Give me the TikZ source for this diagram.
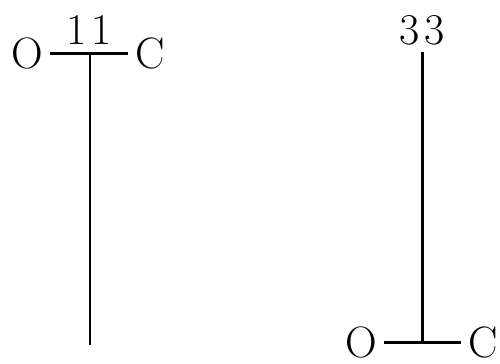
\documentclass[tikz,border=0pt]{standalone}
\usepackage{tikz}
\usetikzlibrary{positioning}

\begin{document}
\begin{tikzpicture}[x=0.02cm,y=-0.02cm,
  atom/.style={font=\fontsize{25}{30}\selectfont,inner xsep=4pt,inner ysep=1pt,text depth=0pt},
  num/.style={font=\fontsize{25}{30}\selectfont,inner sep=0pt,text depth=0pt},
  bond/.style={line width=1.7pt}]
  \useasboundingbox (0,0) rectangle (500,363);
  % left: bar on top
  \node[atom] (oa) at (27,53) {O};
  \node[atom] (ca) at (150,53) {C};
  \node[num] (na) at (89,30) {1\kern3pt1};
  \coordinate (ta) at (90,52);
  \coordinate (ba) at (90,345);
  \draw[bond] (oa) -- (ca);
  \draw[bond] (ta) -- (ba);
  % right: bar at the bottom
  \node[atom] (ob) at (361,342) {O};
  \node[atom] (cb) at (483,342) {C};
  \node[num] (nb) at (422,30) {3\kern3pt3};
  \coordinate (tb) at (422,52);
  \coordinate (bb) at (422,342);
  \draw[bond] (ob) -- (cb);
  \draw[bond] (tb) -- (bb);
\end{tikzpicture}
\end{document}
